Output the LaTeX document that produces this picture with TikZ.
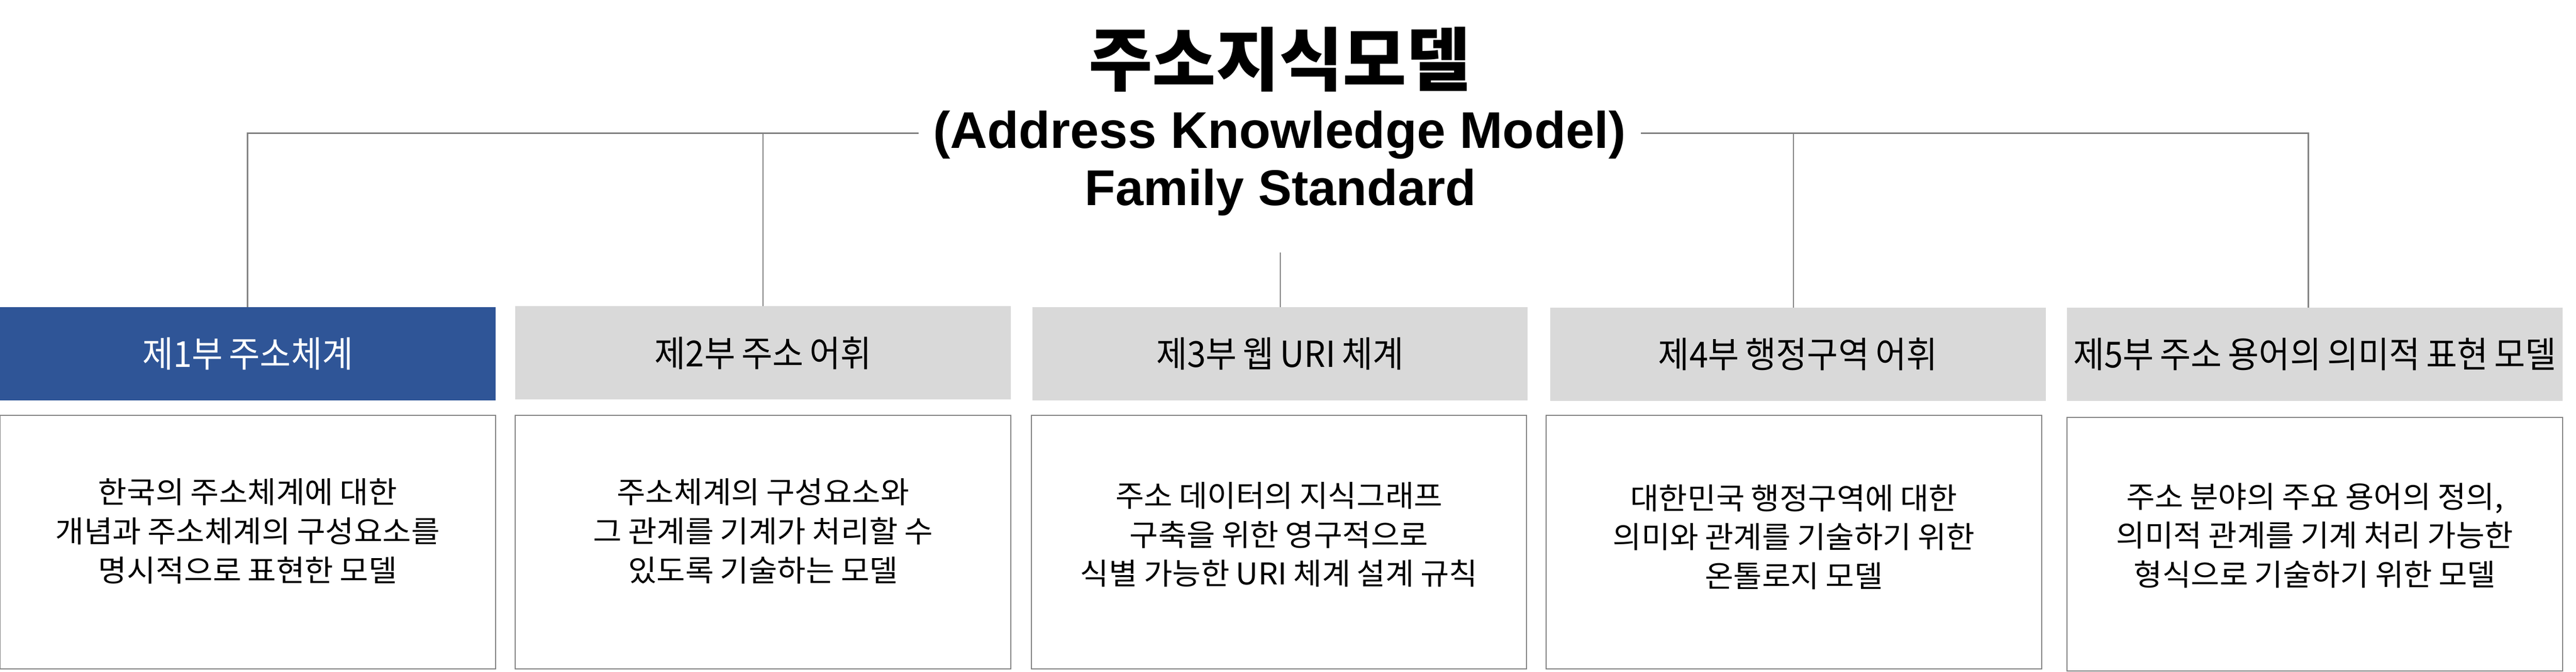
\documentclass[tikz,border=0pt]{standalone}
\usepackage{fontspec}
\usepackage{xcolor}
\usepackage{tikz}
\setmainfont{Noto Sans CJK KR}[FakeStretch=1.04,WordSpace=0.9]
\newfontfamily\headfont{Noto Sans CJK KR}[FakeStretch=0.94,WordSpace=0.8]
\newfontfamily\titlefont{Noto Sans CJK KR}[FakeStretch=1.0]
\newfontfamily\enfont{Liberation Sans}
\definecolor{partblue}{HTML}{2F5597}
\definecolor{partgray}{HTML}{D9D9D9}
\definecolor{linegray}{HTML}{808080}

\begin{document}
\begin{tikzpicture}[
	head/.style={minimum width=9.9cm,minimum height=1.86cm,inner sep=0pt,fill=partgray,font=\headfont\fontsize{20.4}{24}\selectfont},
	descbox/.style={draw=linegray,line width=0.6pt,minimum width=9.9cm,minimum height=5.07cm,inner sep=0pt},
	desctext/.style={align=center,inner sep=0pt,font=\fontsize{17}{22.2}\selectfont},
	conn/.style={linegray,line width=0.6pt}
]
	\useasboundingbox (0,0) rectangle (51.48,-13.42);
	
	\node[anchor=base,font=\titlefont\bfseries\fontsize{39.3}{42}\selectfont] (title) at (25.57,-1.706) {주소지식모델};
	\node[anchor=base,font=\enfont\bfseries\fontsize{29.3}{30}\selectfont] (sub) at (25.57,-2.96) {(Address Knowledge Model)};
	\node[anchor=base,font=\enfont\bfseries\fontsize{28.6}{30}\selectfont] (fam) at (25.59,-4.10) {Family Standard};
	
	\node[head,fill=partblue,text=white] (h1) at (4.95,-7.07) {제1부 주소체계};
	\node[head] (h2) at (15.25,-7.05) {제2부 주소 어휘};
	\node[head] (h3) at (25.58,-7.07) {제3부 웹 URI 체계};
	\node[head] (h4) at (35.93,-7.08) {제4부 행정구역 어휘};
	\node[head] (h5) at (46.26,-7.08) {제5부 주소 용어의 의미적 표현 모델};
	
	\node[descbox] (d1) at (4.95,-10.83) {};
	\node[descbox] (d2) at (15.25,-10.83) {};
	\node[descbox] (d3) at (25.56,-10.83) {};
	\node[descbox] (d4) at (35.85,-10.83) {};
	\node[descbox] (d5) at (46.26,-10.87) {};
	
	\node[desctext] (t1) at ([yshift=2.2mm]d1.center) {한국의 주소체계에 대한\\개념과 주소체계의 구성요소를\\명시적으로 표현한 모델};
	\node[desctext] (t2) at ([yshift=2.2mm]d2.center) {주소체계의 구성요소와\\그 관계를 기계가 처리할 수\\있도록 기술하는 모델};
	\node[desctext] (t3) at ([yshift=1.5mm]d3.center) {주소 데이터의 지식그래프\\구축을 위한 영구적으로\\식별 가능한 URI 체계 설계 규칙};
	\node[desctext] (t4) at ([yshift=1mm]d4.center) {대한민국 행정구역에 대한\\의미와 관계를 기술하기 위한\\온톨로지 모델};
	\node[desctext] (t5) at ([yshift=1.7mm]d5.center) {주소 분야의 주요 용어의 정의,\\의미적 관계를 기계 처리 가능한\\형식으로 기술하기 위한 모델};
	
	\coordinate (jl) at (18.36,-2.66);
	\coordinate (jr) at (32.79,-2.66);
	\coordinate (j3) at (25.59,-5.05);
	\draw[conn,line width=0.8pt] (jl) -| (h1.north);
	\draw[conn] (h2.north) -- (h2.north |- jl);
	\draw[conn] (j3) -- (j3 |- h3.north);
	\draw[conn] ([xshift=-0.9mm]h4.north) -- ([xshift=-0.9mm]h4.north |- jr);
	\draw[conn,line width=0.8pt] (jr) -| ([xshift=-1.3mm]h5.north);
\end{tikzpicture}
\end{document}
